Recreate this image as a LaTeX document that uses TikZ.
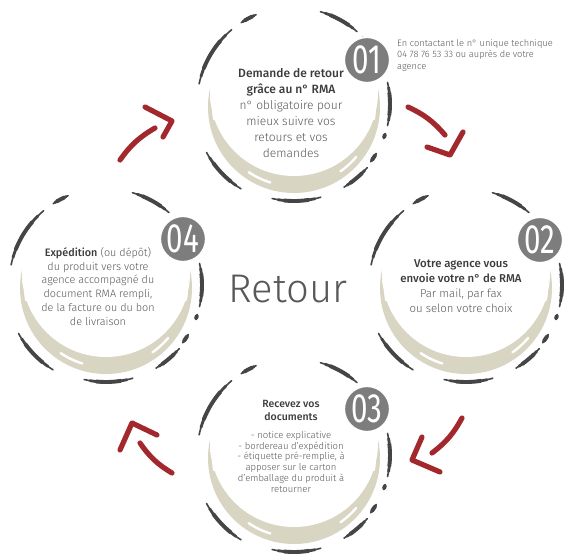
\documentclass[tikz,border=0pt]{standalone}
\usepackage{fontspec}
\usepackage{graphicx}
\setmainfont{Fira Sans}[UprightFont={* Light},BoldFont={* Medium}]
\newfontfamily\numfont{Fira Sans}
\definecolor{arcgray}{HTML}{454545}
\definecolor{beige}{HTML}{D9D5C3}
\definecolor{numgray}{HTML}{7D7D7D}
\definecolor{redarrow}{HTML}{A3282D}
\definecolor{txtgray}{HTML}{585858}
\definecolor{boldgray}{HTML}{3C3C3C}
\tikzset{
  redstroke/.style={redarrow, line width=5.2pt, line cap=round, line join=round},
  numcirc/.style={circle, fill=numgray, draw=white, line width=2.2pt, minimum size=46pt, inner sep=0pt, text=white},
  bodytxt/.style={align=center, text=txtgray, inner sep=0pt, anchor=north},
}
\pgfdeclareradialshading{discshade}{\pgfpoint{0bp}{0bp}}{color(0bp)=(white); color(40bp)=(white); color(50bp)=(black!3)}
\newcommand\bt[1]{{\color{boldgray}\bfseries #1}}
\newcommand\darc[3]{%
  \pgfmathsetmacro\dA{(#2-#1)*0.12}%
  \pgfmathsetmacro\dB{(#2-#1)*0.25}%
  \draw[arcgray, line width=1.6pt, line cap=round] (#1:#3pt) arc[start angle=#1, end angle=#2, radius=#3pt];
  \draw[arcgray, line width=2.8pt, line cap=round] ({#1+\dA}:#3pt) arc[start angle={#1+\dA}, end angle={#2-\dA}, radius=#3pt];
  \draw[arcgray, line width=3.9pt, line cap=round] ({#1+\dB}:#3pt) arc[start angle={#1+\dB}, end angle={#2-\dB}, radius=#3pt];
}
\newcommand\retourunit[2]{%
  \begin{scope}[shift={(#1,-#2)}]
    \fill[beige] (0,-3) circle[radius=86pt];
    \shade[shading=discshade] (0,12) circle[radius=84pt];
    \foreach \a/\b in {183/190,236/253,305/320,350/356}
      \draw[white, line width=2.4pt, line cap=round] (0,-1) ++(\a:81pt) arc[start angle=\a, end angle=\b, radius=81pt];
    \darc{113}{123}{97}
    \darc{49}{74}{96}
    \fill[arcgray] (44:96pt) circle[radius=1.4pt];
    \darc{130}{168}{97}
    \darc{-13}{13}{96}
    \darc{-18}{-21}{96}
    \darc{-31}{-37}{96}
    \darc{-41}{-59}{97}
    \darc{209}{238}{100}
    \darc{257}{286}{97}
  \end{scope}}
\begin{document}
\begin{tikzpicture}[x=1pt,y=1pt]
\useasboundingbox (0,0) rectangle (566,-554);
\fill[white] (0,0) rectangle (566,-554);

\retourunit{294}{104}
\retourunit{466}{285}
\retourunit{294}{455}
\retourunit{106}{285}

\node[numcirc] (n1) at (367,-60) {\scalebox{0.72}[1]{\numfont\fontsize{41}{41}\selectfont 01}};
\node[numcirc] (n2) at (540,-240) {\scalebox{0.72}[1]{\numfont\fontsize{41}{41}\selectfont 02}};
\node[numcirc] (n3) at (367,-409) {\scalebox{0.72}[1]{\numfont\fontsize{41}{41}\selectfont 03}};
\node[numcirc] (n4) at (183,-239) {\scalebox{0.72}[1]{\numfont\fontsize{41}{41}\selectfont 04}};

\node[bodytxt, font=\fontsize{12}{16}\selectfont] (t1) at (291,-68)
  {\bt{Demande de retour}\\\bt{grâce au n° RMA}\\n° obligatoire pour\\mieux suivre vos\\retours et vos\\demandes};
\node[bodytxt, font=\fontsize{11.4}{15}\selectfont] (t2) at (461,-259)
  {\bt{Votre agence vous}\\\bt{envoie votre n° de RMA}\\Par mail, par fax\\ou selon votre choix};
\node[bodytxt, font=\fontsize{10.5}{13.5}\selectfont] (t3a) at (291,-400)
  {\bt{Recevez vos}\\\bt{documents}};
\node[bodytxt, font=\fontsize{9.5}{10.8}\selectfont] (t3b) at (291,-431)
  {- notice explicative\\- bordereau d’expédition\\- étiquette pré-remplie, à\\apposer sur le carton\\d’emballage du produit à\\retourner};
\node[bodytxt, font=\fontsize{10.8}{13.8}\selectfont] (t4) at (98,-247)
  {\bt{Expédition} (ou dépôt)\\du produit vers votre\\agence accompagné du\\document RMA rempli,\\de la facture ou du bon\\de livraison};

\node[anchor=north west, align=left, inner sep=0pt, text=txtgray, font=\fontsize{9.3}{11.5}\selectfont] (note) at (397,-39)
  {En contactant le n° unique technique\\04 78 76 53 33 ou auprès de votre\\agence};

\node[anchor=base, text=txtgray, inner sep=0pt, font=\fontsize{40}{40}\selectfont] (retour) at (288,-302) {Retour};

% arrows
\coordinate (a1s) at (120,-160); \coordinate (a1e) at (155,-128);
\coordinate (a1l) at (145,-107); \coordinate (a1t) at (172,-121); \coordinate (a1r) at (163,-137);
\draw[redstroke] (a1s) to[bend left=12] (a1e);
\draw[redstroke] (a1l) -- (a1t) -- (a1r);

\coordinate (a2s) at (408,-107); \coordinate (a2e) at (445,-135);
\coordinate (a2l) at (427,-147); \coordinate (a2t) at (450,-155); \coordinate (a2r) at (463,-132);
\draw[redstroke] (a2s) to[bend left=12] (a2e);
\draw[redstroke] (a2l) -- (a2t) -- (a2r);

\coordinate (a3s) at (462,-418); \coordinate (a3e) at (432,-453);
\coordinate (a3l) at (422,-437); \coordinate (a3t) at (412,-460); \coordinate (a3r) at (440,-472);
\draw[redstroke] (a3s) to[bend left=12] (a3e);
\draw[redstroke] (a3l) -- (a3t) -- (a3r);

\coordinate (a4s) at (172,-473); \coordinate (a4e) at (140,-443);
\coordinate (a4l) at (157,-435); \coordinate (a4t) at (132,-423); \coordinate (a4r) at (120,-450);
\draw[redstroke] (a4s) to[bend left=12] (a4e);
\draw[redstroke] (a4l) -- (a4t) -- (a4r);
\end{tikzpicture}
\end{document}
